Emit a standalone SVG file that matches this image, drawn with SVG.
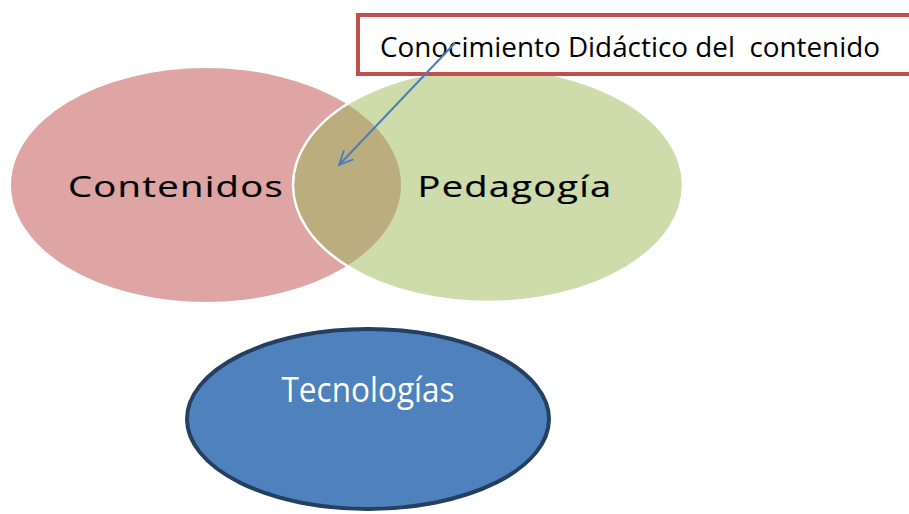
<svg xmlns="http://www.w3.org/2000/svg" width="909" height="514" viewBox="0 0 909 514">
<style>
.lbl{font-family:"Open Sans","DejaVu Sans",sans-serif;font-size:30px;fill:#000;text-anchor:middle;stroke:#000;stroke-width:0.2;letter-spacing:1px}
.box{font-family:"Open Sans","Liberation Sans",sans-serif;font-size:28px;fill:#000}
.tec{font-family:"Open Sans","Liberation Sans",sans-serif;font-size:34px;fill:#fff;text-anchor:middle}
</style>
<defs>
<clipPath id="clipRed"><ellipse cx="206" cy="185" rx="195" ry="117"/></clipPath>
<marker id="arr" viewBox="0 0 16 16" refX="15" refY="8" markerWidth="16" markerHeight="16" markerUnits="userSpaceOnUse" orient="auto">
<path d="M1,1.5 L15,8 L1,14.5" fill="none" stroke="#4a7ebb" stroke-width="1.8"/>
</marker>
</defs>
<g id="contenidos">
<ellipse cx="206" cy="185" rx="195" ry="117" fill="#dea5a4"/>
</g>
<g id="pedagogia">
<ellipse cx="488" cy="185" rx="195" ry="117" fill="#cddcaa"/>
<ellipse cx="488" cy="185" rx="195" ry="117" fill="#bbad7e" clip-path="url(#clipRed)"/>
<ellipse cx="488" cy="185" rx="195" ry="117" fill="none" stroke="#fff" stroke-width="2.5"/>
</g>
<text class="lbl" x="176" y="197" textLength="216" lengthAdjust="spacingAndGlyphs">Contenidos</text>
<text class="lbl" x="515" y="197" textLength="195" lengthAdjust="spacingAndGlyphs">Pedagogía</text>
<g id="cdc">
<rect x="358" y="15" width="560" height="59" fill="#fff" stroke="#c0504d" stroke-width="4"/>
<text class="box" x="380" y="57" textLength="500" lengthAdjust="spacingAndGlyphs" xml:space="preserve">Conocimiento Didáctico del  contenido</text>
</g>
<g id="tecnologias">
<ellipse cx="368" cy="419" rx="181" ry="90" fill="#4f81bd" stroke="#243f60" stroke-width="4"/>
<text class="tec" x="368" y="402" textLength="173" lengthAdjust="spacingAndGlyphs">Tecnologías</text>
</g>
<g id="connectors">
<line x1="455" y1="43" x2="339" y2="165" stroke="#4a7ebb" stroke-width="2" marker-end="url(#arr)"/>
</g>
</svg>
